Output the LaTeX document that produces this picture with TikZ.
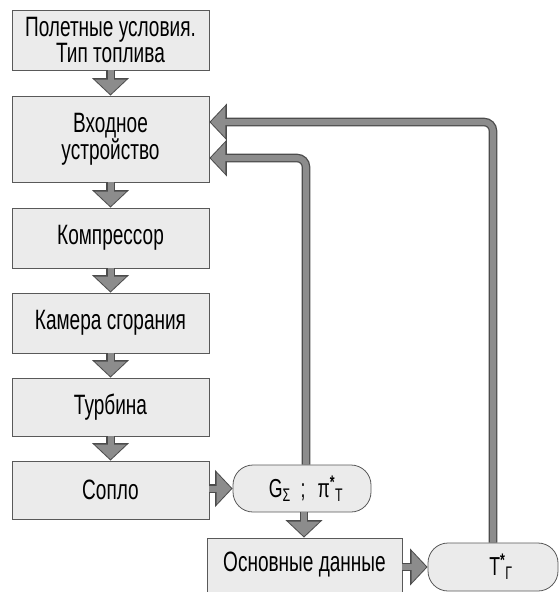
\documentclass[tikz,border=0pt]{standalone}
\usepackage{fontspec}
\setmainfont{Liberation Sans}[FakeStretch=0.68]
\usetikzlibrary{arrows.meta}
\tikzset{
  blok/.style={draw=black!65, line width=0.8pt, fill=black!8, minimum width=197pt,
    inner sep=0pt, align=center, font=\fontsize{28}{25}\selectfont},
  oval/.style={blok, rounded corners=20pt, font=\fontsize{26}{25}\selectfont},
  strelka/.style={draw=black!45, line width=6pt, shorten >=1.4pt,
    -{Triangle[length=14.5pt, width=30pt]},
    preaction={draw=black!70, line width=8.6pt, shorten >=0pt,
      -{Triangle[length=17.5pt, width=36pt]}}}
}
\begin{document}
\begin{tikzpicture}[x=1pt, y=-1pt]
     \useasboundingbox (0,0) rectangle (558,592);
     % bloki
     \node[blok, minimum height=60pt] (usl) at (110.5,40) {Полетные условия.\\Тип топлива};
     \node[blok, minimum height=86pt] (vhod) at (110.5,139) {Входное\\устро\char"0439 ство};
     \node[blok, minimum height=60pt] (komp) at (110.5,238) {Компрессор};
     \node[blok, minimum height=60pt] (kam) at (110.5,323) {Камера сгорания};
     \node[blok, minimum height=58pt] (turb) at (110.5,407) {Турбина};
     \node[blok, minimum height=58pt] (soplo) at (110.5,490) {Сопло};
     \node[oval, minimum width=138pt, minimum height=47pt] (gpi) at (302,488.5)
       {\hspace{8pt}G\textsubscript{Σ}\hspace{10pt};\hspace{12pt}π\textsuperscript{\bfseries *}\textsubscript{Т}};
     \node[blok, minimum width=195pt, minimum height=54pt] (osn) at (304.5,565) {Основные данные};
     \node[oval, minimum width=130pt, minimum height=48pt] (tg) at (493,567)
       {\hspace{16pt}T\textsuperscript{\bfseries *}\textsubscript{Г}};
     % strelki
     \draw[strelka] (usl) -- (vhod);
     \draw[strelka] (vhod) -- (komp);
     \draw[strelka] (komp) -- (kam);
     \draw[strelka] (kam) -- (turb);
     \draw[strelka] (turb) -- (soplo);
     \draw[strelka] (soplo.east |- gpi.west) -- (gpi.west);
     \draw[strelka] ([xshift=2pt]gpi.south) -- ([xshift=2pt]gpi.south |- osn.north);
     \draw[strelka] (osn.east |- tg.west) -- (tg.west);
     \draw[strelka, rounded corners=9pt] ([xshift=4pt]gpi.north) |- ([yshift=-19pt]vhod.east);
     \draw[strelka, rounded corners=9pt] (tg.north) |- ([yshift=17pt]vhod.east);
\end{tikzpicture}
\end{document}
